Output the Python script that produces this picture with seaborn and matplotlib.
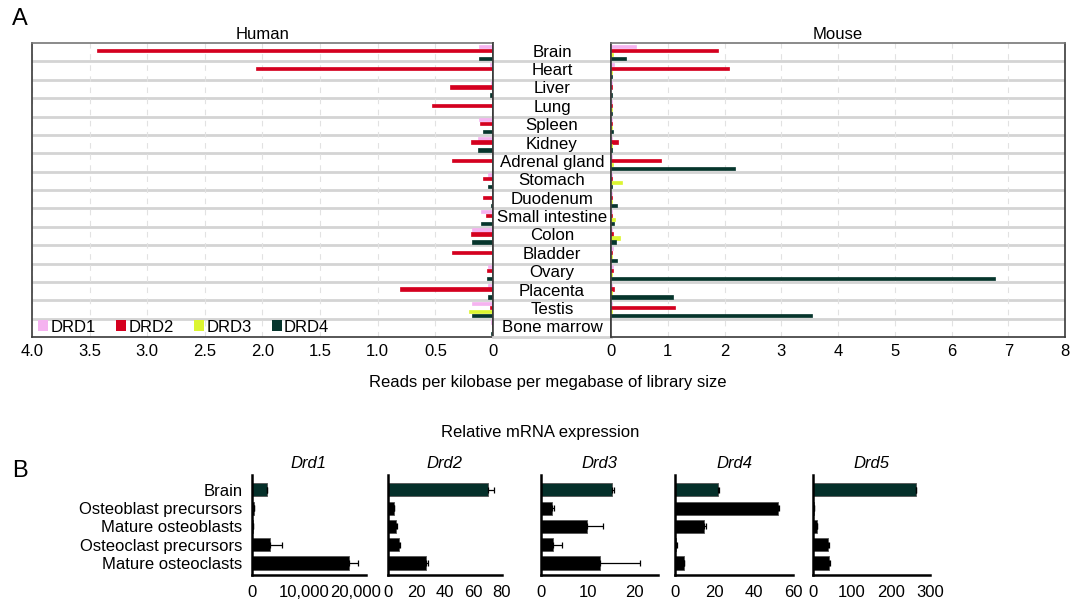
import numpy as np
import pandas as pd
import seaborn as sns
import matplotlib.pyplot as plt
from matplotlib.patches import Patch
from matplotlib.ticker import FuncFormatter

# panel A data (RPKM)
tissues = ["Brain", "Heart", "Liver", "Lung", "Spleen", "Kidney", "Adrenal gland",
           "Stomach", "Duodenum", "Small intestine", "Colon", "Bladder", "Ovary",
           "Placenta", "Testis", "Bone marrow"]
receptors = ["DRD1", "DRD2", "DRD3", "DRD4"]

human_drd1 = [0.12, 0.03, 0.02, 0.00, 0.12, 0.13, 0.00, 0.04, 0.01, 0.10, 0.18, 0.00, 0.04, 0.04, 0.18, 0.02]
human_drd2 = [3.44, 2.06, 0.37, 0.53, 0.11, 0.19, 0.36, 0.09, 0.09, 0.06, 0.19, 0.36, 0.05, 0.81, 0.03, 0.01]
human_drd3 = [0.01, 0.01, 0.00, 0.00, 0.01, 0.00, 0.00, 0.00, 0.00, 0.00, 0.00, 0.00, 0.00, 0.00, 0.21, 0.00]
human_drd4 = [0.12, 0.01, 0.03, 0.01, 0.09, 0.13, 0.00, 0.04, 0.02, 0.10, 0.18, 0.00, 0.05, 0.04, 0.18, 0.02]

mouse_drd1 = [0.44, 0.05, 0.01, 0.01, 0.01, 0.01, 0.01, 0.01, 0.01, 0.01, 0.01, 0.04, 0.03, 0.01, 0.01, 0.00]
mouse_drd2 = [1.89, 2.08, 0.01, 0.02, 0.01, 0.12, 0.88, 0.02, 0.01, 0.01, 0.04, 0.01, 0.04, 0.05, 1.13, 0.00]
mouse_drd3 = [0.03, 0.02, 0.00, 0.01, 0.01, 0.01, 0.03, 0.20, 0.02, 0.07, 0.15, 0.01, 0.01, 0.01, 0.02, 0.00]
mouse_drd4 = [0.27, 0.02, 0.01, 0.01, 0.04, 0.01, 2.18, 0.01, 0.10, 0.06, 0.08, 0.10, 6.77, 1.09, 3.54, 0.00]

receptor_colors = ["#f5b3f0", "#d4001f", "#dcf531", "#06352c"]

# panel B data (relative mRNA expression)
cells = ["Brain", "Osteoblast precursors", "Mature osteoblasts",
         "Osteoclast precursors", "Mature osteoclasts"]
genes = ["Drd1", "Drd2", "Drd3", "Drd4", "Drd5"]
drd1_mean = [2900, 300, 150, 3400, 18700]
drd1_err = [0, 0, 0, 2400, 1700]
drd2_mean = [70.2, 4.0, 5.8, 7.9, 26.4]
drd2_err = [4.5, 0.4, 0.4, 0.4, 1.4]
drd3_mean = [15.2, 2.45, 9.75, 2.5, 12.6]
drd3_err = [0.4, 0.3, 3.6, 2.0, 8.6]
drd4_mean = [21.9, 52.4, 14.9, 0.7, 4.4]
drd4_err = [0.3, 0.3, 0.7, 0.2, 0.4]
drd5_mean = [265, 3, 10, 38, 42]
drd5_err = [0, 0, 0, 2, 2]
brain_color = "#05302a"

sns.set_style("white")
plt.rcParams["font.family"] = ["Liberation Sans", "DejaVu Sans"]
for key in ["text.color", "axes.labelcolor", "xtick.color", "ytick.color"]:
    plt.rcParams[key] = "black"

fig = plt.figure(figsize=(10.84, 6), dpi=100)


def long_table(cols):
    rows = []
    for r, vals in zip(receptors, cols):
        for t, v in zip(tissues, vals):
            rows.append((t, r, v))
    return pd.DataFrame(rows, columns=["tissue", "receptor", "value"])


def style_rpkm_axis(ax, lim, ticks, labels, title):
    # thin bars: outline in own colour so every bar renders at the same thickness
    for p in ax.patches:
        if p.get_width() > 0:
            p.set_edgecolor(p.get_facecolor())
            p.set_linewidth(0.5)
    ax.set_xlim(*lim)
    ax.set_ylim(len(tissues) - 0.5, -0.5)
    ax.set_yticks([])
    ax.set_xlabel("")
    ax.set_ylabel("")
    for y in np.arange(0.5, len(tissues) - 1, 1):
        ax.axhline(y, color="#d4d4d4", lw=2, zorder=0)
    ax.set_xticks(ticks)
    ax.set_xticklabels(labels)
    ax.grid(axis="x", ls=(0, (5, 5)), color="#e2e2e2", lw=0.8)
    ax.set_axisbelow(True)
    ax.tick_params(axis="x", length=0, labelsize=12, pad=5)
    for s in ax.spines.values():
        s.set_color("#3a3a3a")
        s.set_linewidth(1.2)
    ax.spines["top"].set_color("#777777")
    ax.set_title(title, fontsize=12, pad=3)


# Human
ax_h = fig.add_axes([0.0295, 0.4383, 0.4253, 0.49])
sns.barplot(data=long_table([human_drd1, human_drd2, human_drd3, human_drd4]),
            y="tissue", x="value", hue="receptor", orient="h",
            palette=receptor_colors, saturation=1, width=0.86, gap=0.18,
            errorbar=None, ax=ax_h, legend=False)
h_ticks = np.arange(0, 4.01, 0.5)
style_rpkm_axis(ax_h, (4, 0), h_ticks,
                ["0" if v == 0 else f"{v:.1f}" for v in h_ticks], "Human")
handles = [Patch(facecolor=c, edgecolor="none") for c in receptor_colors]
ax_h.legend(handles, receptors, ncol=4, loc="lower left", frameon=False,
            fontsize=12, handlelength=0.6, handleheight=0.6, handletextpad=0.15,
            columnspacing=1.2, borderaxespad=0.05, borderpad=0.1,
            bbox_to_anchor=(0.008, 0))

# tissue labels column
ax_l = fig.add_axes([0.4548, 0.4383, 0.1089, 0.49])
ax_l.set_xlim(0, 1)
ax_l.set_ylim(len(tissues) - 0.5, -0.5)
for i, t in enumerate(tissues):
    ax_l.text(0.5, i, t, ha="center", va="center", fontsize=12.2)
for y in np.arange(0.5, len(tissues) - 1, 1):
    ax_l.axhline(y, color="#d4d4d4", lw=2, zorder=0)
ax_l.set_xticks([])
ax_l.set_yticks([])
ax_l.spines["top"].set_visible(False)
ax_l.spines["bottom"].set_color("#d4d4d4")
ax_l.spines["bottom"].set_linewidth(2)
for s in ["left", "right"]:
    ax_l.spines[s].set_color("#3a3a3a")
    ax_l.spines[s].set_linewidth(1.2)

# Mouse
ax_m = fig.add_axes([0.5637, 0.4383, 0.4188, 0.49])
sns.barplot(data=long_table([mouse_drd1, mouse_drd2, mouse_drd3, mouse_drd4]),
            y="tissue", x="value", hue="receptor", orient="h",
            palette=receptor_colors, saturation=1, width=0.86, gap=0.18,
            errorbar=None, ax=ax_m, legend=False)
m_ticks = np.arange(0, 9)
style_rpkm_axis(ax_m, (0, 8), m_ticks, [str(v) for v in m_ticks], "Mouse")

fig.text(0.5055, 0.363, "Reads per kilobase per megabase of library size",
         ha="center", va="center", fontsize=12)
fig.text(0.0185, 0.968, "A", fontsize=17, ha="center", va="center")
fig.text(0.0185, 0.215, "B", fontsize=17, ha="center", va="center")
fig.text(0.498, 0.28, "Relative mRNA expression", ha="center", va="center", fontsize=12)

# panel B
b_means = [drd1_mean, drd2_mean, drd3_mean, drd4_mean, drd5_mean]
b_errs = [drd1_err, drd2_err, drd3_err, drd4_err, drd5_err]
b_lefts = [0.2325, 0.358, 0.499, 0.6227, 0.75]
b_widths = [0.105, 0.105, 0.108, 0.109, 0.108]
b_lims = [22000, 80, 25, 60, 300]
b_ticks = [np.arange(0, 20001, 5000), np.arange(0, 81, 20), np.arange(0, 26, 5),
           np.arange(0, 61, 20), np.arange(0, 301, 100)]
b_labeled = [[0, 10000, 20000], list(range(0, 81, 20)), [0, 10, 20],
             [0, 20, 40, 60], [0, 100, 200, 300]]
palette = [brain_color] + ["black"] * 4

for k, gene in enumerate(genes):
    ax = fig.add_axes([b_lefts[k], 0.0417, b_widths[k], 0.1667])
    df_b = pd.DataFrame({"cell": cells, "expr": b_means[k]})
    sns.barplot(data=df_b, y="cell", x="expr", hue="cell", palette=palette,
                saturation=1, orient="h", width=0.72, errorbar=None, ax=ax,
                legend=False, edgecolor="#555555", linewidth=0.6)
    ax.errorbar(b_means[k], np.arange(len(cells)),
                xerr=[np.zeros(len(cells)), b_errs[k]], fmt="none",
                ecolor="black", elinewidth=0.9, capsize=2.5, capthick=0.9)
    ax.set_xlim(0, b_lims[k])
    ax.set_ylim(4.66, -0.82)
    ax.set_xticks(b_ticks[k])
    labeled = b_labeled[k]
    ax.xaxis.set_major_formatter(
        FuncFormatter(lambda v, p, labeled=labeled: f"{v:,.0f}" if round(v) in labeled else ""))
    ax.tick_params(axis="x", length=4, width=1.2, labelsize=12, pad=3)
    ax.tick_params(axis="y", length=0, labelsize=12, pad=7)
    ax.set_xlabel("")
    ax.set_ylabel("")
    if k > 0:
        ax.set_yticklabels([])
    sns.despine(ax=ax)
    for s in ["left", "bottom"]:
        ax.spines[s].set_color("black")
        ax.spines[s].set_linewidth(1.8)
    ax.set_title(gene, style="italic", fontsize=12, pad=5)

fig.savefig("out.png", dpi=100)
